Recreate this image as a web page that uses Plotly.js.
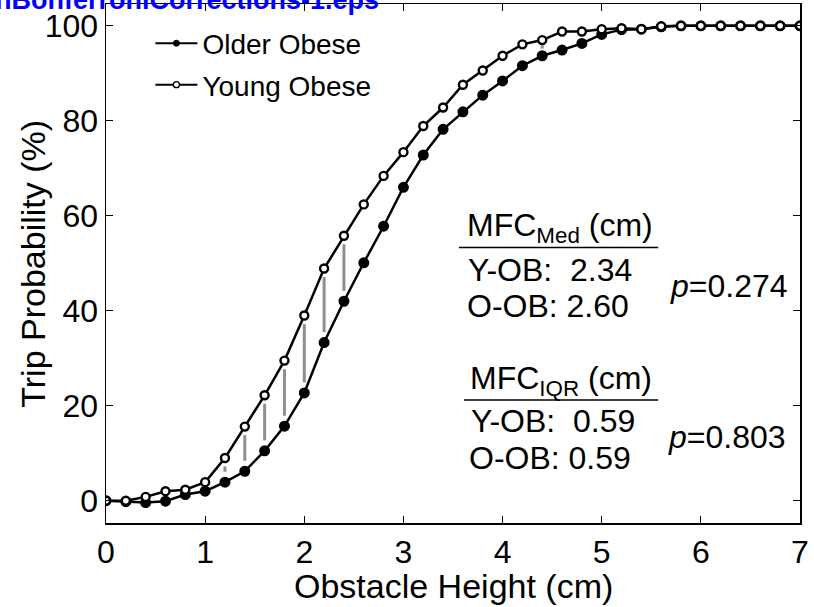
<!DOCTYPE html>
<html>
<head>
<meta charset="utf-8">
<script src="https://cdn.plot.ly/plotly-3.0.1.min.js"></script>
<style>html,body{margin:0;padding:0;background:#fff;}#chart{width:814px;height:607px;}</style>
</head>
<body>
<div id="chart"></div>
<script>
// Obstacle heights (cm)
var obstacleHeight = [0,0.2,0.4,0.6,0.8,1.0,1.2,1.4,1.6,1.8,2.0,2.2,2.4,2.6,2.8,3.0,3.2,3.4,3.6,3.8,4.0,4.2,4.4,4.6,4.8,5.0,5.2,5.4,5.6,5.8,6.0,6.2,6.4,6.6,6.8,7.0];
// Trip probability (%)
var olderObese = [0,-0.2,-0.4,-0.1,1.3,2.0,3.9,6.2,10.5,15.7,22.7,33.3,42.0,50.1,57.8,66.0,72.8,78.2,81.9,85.4,88.4,91.6,93.7,94.9,96.3,98.2,99.2,99.3,99.8,100,100,100,100,100,100,100];
var youngObese = [0,0,0.8,2.0,2.3,3.9,9.0,15.6,22.2,29.5,39.0,48.9,55.8,62.4,68.4,73.4,78.9,82.8,87.6,90.6,93.7,96.1,97.0,98.8,98.8,99.3,99.5,99.3,99.9,100,100,100,100,100,100,100];
// Heights with significant difference (grey markers)
var significantHeights = [1.2,1.4,1.6,1.8,2.0,2.2,2.4,4.4];
var xTicks = [0,1,2,3,4,5,6,7];
var yTicks = [0,20,40,60,80,100];
var seriesNames = ['Older Obese','Young Obese'];

var FONT = 'Arial, "Liberation Sans", sans-serif';

// grey significance segments built from the series
var gx = [], gy = [];
significantHeights.forEach(function(h){
  var i = obstacleHeight.indexOf(h);
  gx.push(h, h, null);
  gy.push(olderObese[i] + 2.2, youngObese[i] - 1.8, null);
});

var traces = [
  {x: gx, y: gy, mode: 'lines', line: {color: '#8f8f8f', width: 3}, showlegend: false, hoverinfo: 'skip'},
  {x: obstacleHeight, y: olderObese, mode: 'lines+markers', name: seriesNames[0], showlegend: false,
   line: {color: '#000', width: 2.5}, marker: {symbol: 'circle', size: 9.5, color: '#000', line: {color: '#000', width: 1.5}}},
  {x: obstacleHeight, y: youngObese, mode: 'lines+markers', name: seriesNames[1], showlegend: false,
   line: {color: '#000', width: 2.5}, marker: {symbol: 'circle', size: 8, color: '#fff', line: {color: '#000', width: 2.4}}},
  // legend entries
  {x: [null], y: [null], mode: 'lines+markers', name: seriesNames[0], legendgroup: 'a', line: {color: '#000', width: 2}, marker: {size: 6, color: '#000', line: {color: '#000', width: 1}}},
  {x: [null], y: [null], mode: 'lines+markers', name: seriesNames[1], legendgroup: 'b', line: {color: '#000', width: 2}, marker: {size: 6, color: '#fff', line: {color: '#000', width: 1.3}}}
];

var sp = '\u00A0';
function ann(x, y, text, extra) {
  var a = {xref: 'x', yref: 'y', x: x, y: y, text: text, showarrow: false, xanchor: 'left', yanchor: 'middle',
           font: {family: FONT, size: 32, color: '#000'}, borderpad: 0};
  for (var k in extra) a[k] = extra[k];
  return a;
}

var layout = {
  width: 814, height: 607,
  margin: {l: 106, r: 14, t: 4, b: 84},
  paper_bgcolor: '#fff', plot_bgcolor: '#fff',
  font: {family: FONT, color: '#000'},
  showlegend: true,
  legend: {x: 0.064, y: 0.972, xanchor: 'left', yanchor: 'top', bgcolor: 'rgba(0,0,0,0)', borderwidth: 0,
           font: {family: FONT, size: 28, color: '#000'}, itemwidth: 42, tracegroupgap: 2},
  xaxis: {range: [0, 7], tickvals: xTicks, ticktext: xTicks.map(String), ticks: 'inside', ticklen: 7, tickwidth: 1, tickcolor: '#000',
          showline: true, linecolor: '#000', linewidth: 1.5, mirror: 'ticks', showgrid: false, zeroline: false,
          tickfont: {family: FONT, size: 32, color: '#000'}, automargin: false},
  yaxis: {range: [-4.7, 104.6], tickvals: yTicks, ticktext: yTicks.map(String), ticks: 'inside', ticklen: 7, tickwidth: 1, tickcolor: '#000',
          showline: true, linecolor: '#000', linewidth: 1.5, mirror: 'ticks', showgrid: false, zeroline: false,
          tickfont: {family: FONT, size: 32, color: '#000'}, automargin: false},
  annotations: [
    {xref: 'paper', yref: 'paper', x: 0.395, y: 0.976, xanchor: 'right', yanchor: 'bottom', showarrow: false, borderpad: 0,
     text: '<b>nBonferroniCorrections-1.eps</b>', font: {family: FONT, size: 27, color: '#0000ff'}},
    {xref: 'paper', yref: 'paper', x: -0.1063, y: 0.5, xanchor: 'center', yanchor: 'middle', showarrow: false, borderpad: 0,
     textangle: -90, text: 'Trip Probability (%)', font: {family: FONT, size: 34, color: '#000'}},
    {xref: 'paper', yref: 'paper', x: 0.5, y: -0.1214, xanchor: 'center', yanchor: 'middle', showarrow: false, borderpad: 0,
     text: 'Obstacle Height (cm)', font: {family: FONT, size: 34, color: '#000'}},
    ann(3.63, 57.6, 'MFC<sub>Med</sub> (cm)'),
    ann(3.64, 48.6, 'Y-OB:' + sp + sp + '2.34'),
    ann(3.63, 41.0, 'O-OB: 2.60'),
    ann(5.68, 45.2, '<i>p</i>=0.274'),
    ann(3.66, 25.4, 'MFC<sub>IQR</sub> (cm)'),
    ann(3.67, 16.7, 'Y-OB:' + sp + sp + '0.59'),
    ann(3.65, 9.0, 'O-OB: 0.59'),
    ann(5.66, 13.4, '<i>p</i>=0.803')
  ],
  shapes: [
    {type: 'line', xref: 'x', yref: 'y', x0: 3.56, x1: 5.57, y0: 53.3, y1: 53.3, line: {color: '#000', width: 1.5}},
    {type: 'line', xref: 'x', yref: 'y', x0: 3.61, x1: 5.57, y0: 21.2, y1: 21.2, line: {color: '#000', width: 1.5}}
  ]
};

Plotly.newPlot('chart', traces, layout, {displayModeBar: false, staticPlot: true});
</script>
</body>
</html>
